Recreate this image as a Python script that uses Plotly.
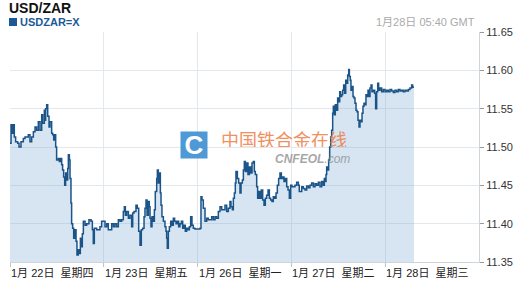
import plotly.graph_objects as go

# Trading-day position (0 = 1月22日 open, 1 = 1月23日, 2 = 1月26日, 3 = 1月27日, 4 = 1月28日)
t = [0.000,0.011,0.025,0.036,0.046,0.060,0.082,0.096,0.117,0.142,0.160,0.195,0.213,0.231,0.249,0.267,0.284,0.302,0.320,0.338,
     0.348,0.366,0.373,0.380,0.391,0.402,0.416,0.426,0.444,0.455,0.466,0.480,0.487,0.497,0.515,0.526,0.537,0.551,0.561,0.572,
     0.583,0.593,0.604,0.615,0.622,0.633,0.640,0.650,0.657,0.668,0.679,0.693,0.704,0.714,0.728,0.739,0.750,0.760,0.771,0.782,
     0.800,0.817,0.842,0.864,0.878,0.888,0.899,0.924,0.959,0.977,1.013,1.031,1.048,1.084,
     1.102,1.119,1.137,1.155,1.173,1.190,1.208,1.219,1.230,1.244,1.262,1.279,1.297,1.308,1.322,1.343,1.357,1.372,1.386,1.400,
     1.414,1.429,1.439,1.450,1.461,1.475,1.485,1.493,1.503,1.514,1.528,1.539,1.549,1.564,1.571,1.581,1.592,1.603,1.610,1.620,
     1.635,1.652,1.663,1.670,1.677,1.688,1.699,1.713,1.727,1.741,1.755,1.770,1.784,1.798,1.812,1.827,1.841,1.855,1.869,1.883,
     1.898,1.912,1.926,1.940,1.954,1.972,2.008,2.026,2.036,2.047,2.061,2.079,2.097,2.114,
     2.132,2.150,2.168,2.186,2.203,2.221,2.239,2.257,2.274,2.292,2.310,2.328,2.345,2.356,2.370,2.381,2.392,2.402,2.409,2.424,
     2.438,2.452,2.463,2.477,2.488,2.498,2.509,2.523,2.537,2.552,2.566,2.580,2.594,2.605,2.615,2.630,2.640,2.651,2.665,2.679,
     2.694,2.708,2.722,2.736,2.751,2.765,2.779,2.793,2.807,2.822,2.836,2.850,2.864,2.878,2.893,2.907,2.921,2.935,2.950,2.964,
     2.978,2.992,3.006,3.038,3.056,3.074,3.084,
     3.110,3.127,3.145,3.163,3.181,3.198,3.216,3.234,3.252,3.269,3.287,3.305,3.323,3.340,3.351,3.362,3.369,3.376,3.387,3.397,
     3.408,3.419,3.429,3.440,3.447,3.458,3.468,3.483,3.493,3.504,3.515,3.525,3.536,3.547,3.557,3.568,3.579,3.590,3.600,3.611,
     3.618,3.628,3.635,3.646,3.657,3.667,3.678,3.689,3.699,3.710,3.721,3.731,3.742,3.753,3.763,3.774,3.785,3.795,3.806,3.817,
     3.827,3.838,3.849,3.859,3.873,3.888,3.898,3.909,3.920,3.930,3.945,3.962,3.980,3.998,4.016,4.033,4.051,4.069,4.087,4.104,
     4.122,4.140,4.158,4.176,4.193,4.211,4.229,4.247,4.264,4.282,4.293,4.307]

rate = [11.505,11.529,11.518,11.529,11.513,11.507,11.505,11.500,11.507,11.511,11.513,11.516,11.507,11.513,11.520,11.526,11.522,11.533,11.522,11.542,
        11.531,11.548,11.535,11.550,11.555,11.540,11.526,11.533,11.518,11.516,11.509,11.516,11.500,11.483,11.485,11.481,11.485,11.477,11.470,11.461,
        11.450,11.466,11.457,11.472,11.490,11.483,11.459,11.427,11.400,11.394,11.381,11.392,11.377,11.359,11.366,11.361,11.381,11.370,11.387,11.403,
        11.398,11.400,11.405,11.403,11.392,11.374,11.394,11.392,11.396,11.403,11.396,11.400,11.392,11.400,
        11.396,11.400,11.396,11.405,11.403,11.405,11.416,11.422,11.411,11.416,11.407,11.411,11.396,11.414,11.416,11.424,11.420,11.390,11.372,11.392,
        11.394,11.409,11.420,11.431,11.411,11.429,11.422,11.407,11.396,11.409,11.403,11.418,11.442,11.459,11.470,11.453,11.466,11.440,11.424,11.409,
        11.403,11.396,11.390,11.381,11.368,11.390,11.396,11.403,11.398,11.407,11.403,11.400,11.403,11.396,11.400,11.403,11.394,11.398,11.390,11.394,
        11.392,11.396,11.409,11.398,11.394,11.393,11.393,11.394,11.435,11.431,11.420,11.403,11.407,11.405,
        11.405,11.409,11.405,11.409,11.407,11.416,11.422,11.418,11.418,11.424,11.416,11.420,11.429,11.422,11.418,11.433,11.440,11.453,11.468,11.459,
        11.453,11.440,11.453,11.457,11.470,11.481,11.468,11.479,11.464,11.474,11.466,11.479,11.481,11.468,11.464,11.448,11.433,11.442,11.433,11.444,
        11.431,11.424,11.433,11.437,11.444,11.433,11.431,11.429,11.435,11.433,11.440,11.450,11.459,11.466,11.459,11.461,11.455,11.459,11.448,11.444,
        11.433,11.450,11.448,11.450,11.454,11.450,11.442,
        11.448,11.446,11.444,11.449,11.447,11.450,11.453,11.448,11.452,11.450,11.454,11.448,11.455,11.450,11.459,11.455,11.464,11.474,11.470,11.483,
        11.500,11.513,11.522,11.544,11.553,11.542,11.555,11.548,11.564,11.559,11.572,11.566,11.568,11.574,11.581,11.570,11.587,11.583,11.594,11.601,
        11.592,11.587,11.574,11.579,11.566,11.564,11.557,11.548,11.546,11.535,11.526,11.535,11.533,11.544,11.553,11.557,11.555,11.568,11.566,11.574,
        11.566,11.577,11.581,11.572,11.574,11.570,11.550,11.572,11.583,11.574,11.577,11.572,11.575,11.572,11.574,11.572,11.575,11.573,11.571,11.574,
        11.572,11.575,11.573,11.574,11.572,11.574,11.573,11.575,11.577,11.581,11.578,11.578]

day_pos = [0, 1, 2, 3, 4]
day_labels = ["1月 22日  星期四", "1月 23日  星期五", "1月 26日  星期一", "1月 27日  星期二", "1月 28日  星期三"]
y_ticks = [11.35, 11.40, 11.45, 11.50, 11.55, 11.60, 11.65]

W, H = 530, 293
ML, MR, MT, MB = 10, 51, 32, 31
PW, PH = W - ML - MR, H - MT - MB
def px(x):
    return (x - ML) / PW
def py(y):
    return (H - MB - y) / PH

FONT = "Liberation Sans, Arial, Noto Sans CJK SC, sans-serif"
LINE = "#1b5489"

fig = go.Figure()
fig.add_trace(go.Scatter(
    x=t, y=rate, mode="lines",
    line=dict(color=LINE, width=1.5, shape="hv"),
    fill="tozeroy", fillcolor="rgba(120,170,210,0.30)",
    hoverinfo="skip", showlegend=False))

annotations = []
for d, lab in zip(day_pos, day_labels):
    annotations.append(dict(x=d, xref="x", y=0, yref="paper", text=lab, showarrow=False,
                            xanchor="left", yanchor="middle", yshift=-11, xshift=-1,
                            font=dict(family=FONT, size=11, color="#222")))

annotations += [
    dict(x=px(7), y=py(8), xref="paper", yref="paper", text="<b>USD/ZAR</b>", showarrow=False,
         xanchor="left", yanchor="middle", font=dict(family=FONT, size=14, color="#111")),
    dict(x=px(18), y=py(22), xref="paper", yref="paper", text="<b>USDZAR=X</b>", showarrow=False,
         xanchor="left", yanchor="middle", font=dict(family=FONT, size=11, color="#1c5a96")),
    dict(x=px(477), y=py(22), xref="paper", yref="paper", text="1月28日 05:40 GMT", showarrow=False,
         xanchor="right", yanchor="middle", font=dict(family=FONT, size=11, color="#aaaaaa")),
    dict(x=px(193.5), y=py(145), xref="paper", yref="paper", text="<b>C</b>", showarrow=False,
         xanchor="center", yanchor="middle", width=24, height=24, bgcolor="#3d8fd3",
         font=dict(family="Liberation Sans, Arial", size=26, color="white"), opacity=0.9),
    dict(x=px(284), y=py(139), xref="paper", yref="paper", text="中国铁合金在线", showarrow=False,
         xanchor="center", yanchor="middle", opacity=0.85, height=16,
         font=dict(family="Noto Sans CJK SC", size=18, color="#ef7d45")),
    dict(x=px(312), y=py(158.5), xref="paper", yref="paper", text="<b><i>CNFEOL</i></b><i>.com</i>", showarrow=False,
         xanchor="center", yanchor="middle", opacity=0.75, height=12,
         font=dict(family=FONT, size=12, color="#8a8a8a")),
]

fig.update_layout(
    width=W, height=H, margin=dict(l=ML, r=MR, t=MT, b=MB),
    paper_bgcolor="white", plot_bgcolor="white",
    annotations=annotations,
    shapes=[dict(type="rect", xref="paper", yref="paper", x0=px(9), x1=px(17), y0=py(26), y1=py(18),
                 fillcolor="#1c5a96", line=dict(width=0))],
    xaxis=dict(range=[0, 5], tickvals=day_pos, showticklabels=False, ticks="outside", ticklen=4,
               tickcolor="#b8c4d0", showgrid=True, gridcolor="#e3e8ef", gridwidth=1,
               showline=True, linecolor="#d0d4da", zeroline=False, fixedrange=True),
    yaxis=dict(range=[11.35, 11.65], side="right", tickvals=y_ticks, tickformat=".2f",
               ticks="outside", ticklen=4, tickcolor="#999", showgrid=True, gridcolor="#e3e8ef",
               showline=True, linecolor="#d0d4da", zeroline=False,
               tickfont=dict(family=FONT, size=11, color="#333"), fixedrange=True),
)

fig.write_html("out.html")
